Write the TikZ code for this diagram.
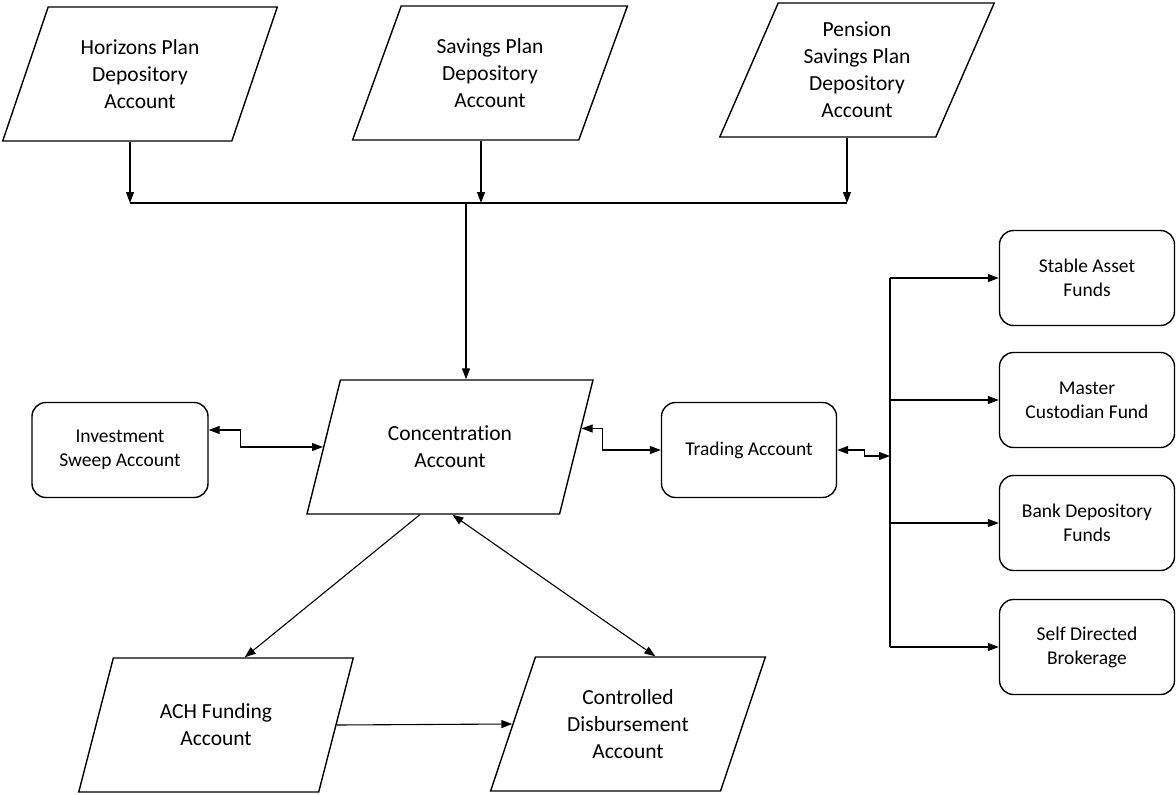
\documentclass[tikz,border=0pt]{standalone}
\usepackage{fontspec}
\setmainfont{Carlito}[Ligatures=NoCommon]
\usetikzlibrary{positioning,arrows.meta,shapes.geometric}

\begin{document}
\begin{tikzpicture}[x=1pt, y=-1pt,
      acct/.style={trapezium, trapezium left angle=67.7, trapezium right
      angle=112.3, trapezium stretches=true, draw, line width=1.4pt,
      minimum width=275pt, minimum height=134pt, align=center,
      font=\fontsize{21.5}{27}\selectfont},
      fund/.style={rectangle, rounded corners=14pt, draw, line width=1.4pt,
      minimum width=175pt, minimum height=95pt, align=center,
      font=\fontsize{19.5}{24}\selectfont},
      link/.style={-{Triangle[length=11pt,width=8pt]}, line width=1.1pt},
      dlink/.style={{Triangle[length=11pt,width=8pt]}-{Triangle[length=11pt,width=8pt]}, line width=1.1pt},
    ]
    \useasboundingbox (0,0) rectangle (1176,795);

    % Plan accounts
    \node[acct] (horizons) at (140,74) {Horizons Plan\\Depository\\Account};
    \node[acct] (savings) at (490,73) {Savings Plan\\Depository\\Account};
    \node[acct] (pension) at (857,70) {Pension\\Savings Plan\\Depository\\Account};

    \node[acct, minimum width=286pt] (conc) at (450,447) {Concentration\\Account};
    \node[acct] (ach) at (216,725) {ACH Funding\\Account};
    \node[acct] (ctrl) at (628,724) {Controlled\\Disbursement\\Account};

    \node[fund, minimum width=176pt] (sweep) at (120,450) {Investment\\Sweep Account};
    \node[fund] (trading) at (749,450) {Trading Account};

    % Funds
    \node[fund] (stable) at (1087,278) {Stable Asset\\Funds};
    \node[fund] (master) at (1087,400) {Master\\Custodian Fund};
    \node[fund] (bank) at (1087,523) {Bank Depository\\Funds};
    \node[fund] (self) at (1087,647) {Self Directed\\Brokerage};

    \coordinate (bus) at (466,203);
    \coordinate (h1) at ([xshift=-10pt]horizons.center);
    \coordinate (s1) at ([xshift=-9pt]savings.center);
    \coordinate (p1) at ([xshift=-10pt]pension.center);
    \draw[link] (h1 |- horizons.south) -- (h1 |- bus);
    \draw[link] (s1 |- savings.south) -- (s1 |- bus);
    \draw[link] (p1 |- pension.south) -- (p1 |- bus);
    \draw[line width=1.1pt] (h1 |- bus) -- (p1 |- bus);
    \draw[link] (bus) -- (bus |- conc.north);

    \draw[dlink] ([yshift=20pt]sweep.east) -- ++(32,0) |- (conc.180);
    \draw[dlink] (conc.8) -- ++(21,0) |- (trading.west);
    \draw[link] (conc.246) -- (ach.67);
    \draw[dlink] (conc.272) -- (ctrl.68);
    \draw[link] (ach.0) -- (ctrl.180);

    % Fund branches
    \coordinate (rbus) at (890,456);
    \draw[dlink] (trading.east) -- ++(27,0) |- (rbus);
    \draw[line width=1.1pt] (stable.west -| rbus) -- (self.west -| rbus);
    \foreach \f in {stable,master,bank,self}
      \draw[link] (\f.west -| rbus) -- (\f.west);
  \end{tikzpicture}
\end{document}
